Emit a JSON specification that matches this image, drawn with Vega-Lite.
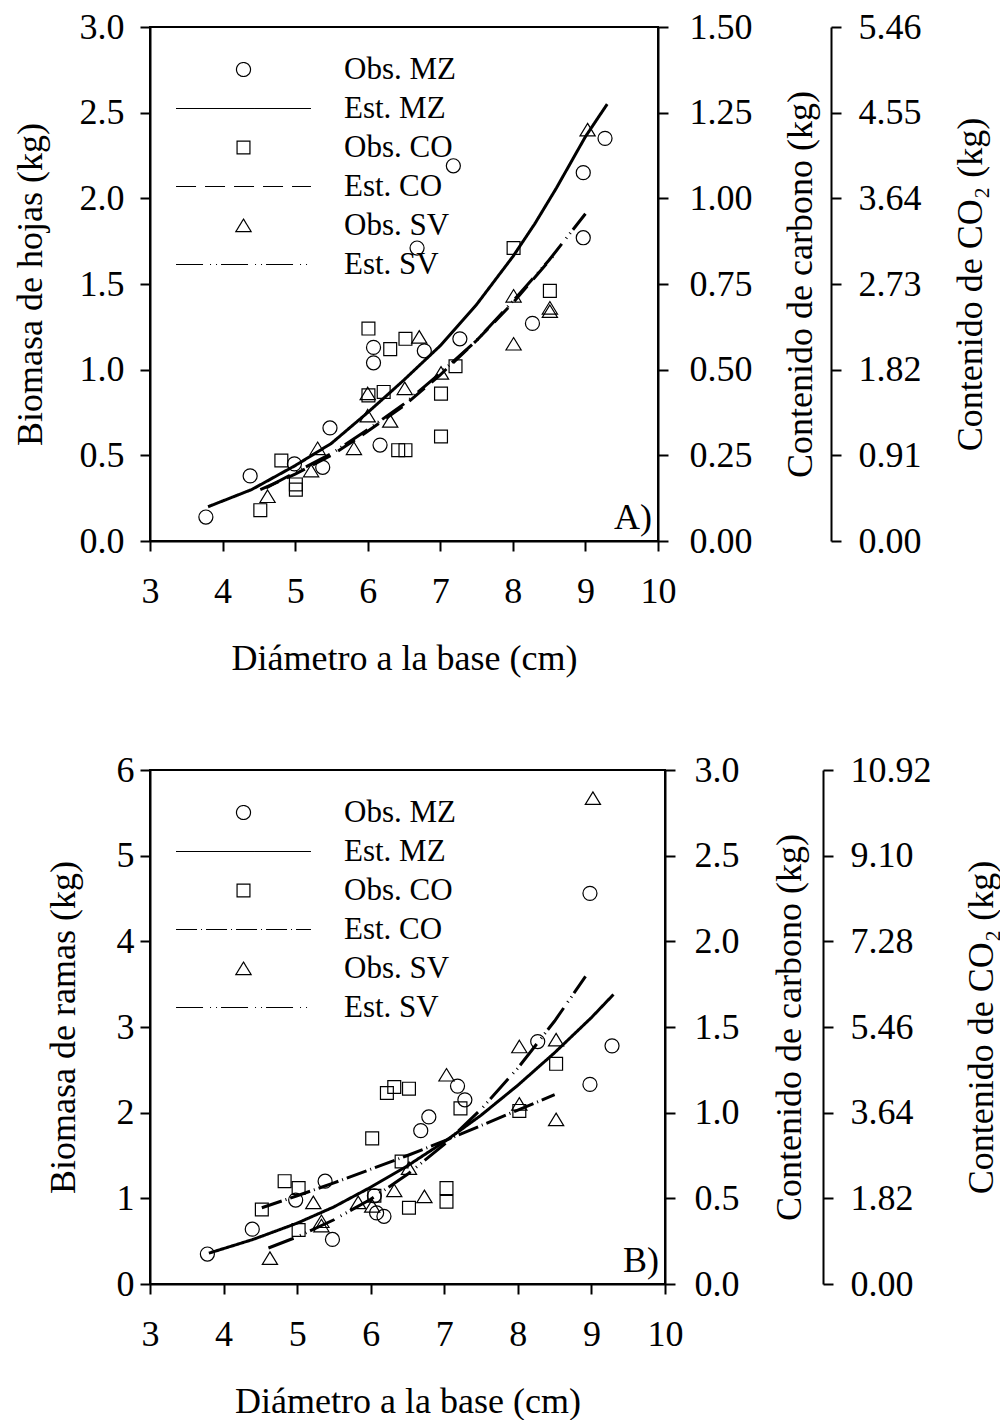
{
  "$schema": "https://vega.github.io/schema/vega-lite/v6.json",
  "padding": {"top": 8, "left": 11, "right": 0, "bottom": 0},
  "background": "white",
  "datasets": {
    "a_obs": [
      {"d": 3.77, "b": 0.14, "s": "Obs. MZ"}, {"d": 4.38, "b": 0.38, "s": "Obs. MZ"}, {"d": 4.99, "b": 0.45, "s": "Obs. MZ"}, {"d": 5.38, "b": 0.43, "s": "Obs. MZ"},
      {"d": 5.48, "b": 0.66, "s": "Obs. MZ"}, {"d": 6.08, "b": 1.13, "s": "Obs. MZ"}, {"d": 6.08, "b": 1.04, "s": "Obs. MZ"}, {"d": 6.17, "b": 0.56, "s": "Obs. MZ"},
      {"d": 6.78, "b": 1.11, "s": "Obs. MZ"}, {"d": 6.68, "b": 1.71, "s": "Obs. MZ"}, {"d": 7.18, "b": 2.19, "s": "Obs. MZ"}, {"d": 7.27, "b": 1.18, "s": "Obs. MZ"},
      {"d": 8.27, "b": 1.27, "s": "Obs. MZ"}, {"d": 8.97, "b": 2.15, "s": "Obs. MZ"}, {"d": 8.97, "b": 1.77, "s": "Obs. MZ"}, {"d": 9.27, "b": 2.35, "s": "Obs. MZ"},
      {"d": 4.52, "b": 0.18, "s": "Obs. CO"}, {"d": 4.81, "b": 0.47, "s": "Obs. CO"}, {"d": 5.01, "b": 0.33, "s": "Obs. CO"}, {"d": 5.01, "b": 0.30, "s": "Obs. CO"},
      {"d": 6.01, "b": 1.24, "s": "Obs. CO"}, {"d": 6.01, "b": 0.85, "s": "Obs. CO"}, {"d": 6.22, "b": 0.87, "s": "Obs. CO"}, {"d": 6.31, "b": 1.12, "s": "Obs. CO"},
      {"d": 6.52, "b": 1.18, "s": "Obs. CO"}, {"d": 6.42, "b": 0.53, "s": "Obs. CO"}, {"d": 6.52, "b": 0.53, "s": "Obs. CO"}, {"d": 7.01, "b": 0.86, "s": "Obs. CO"},
      {"d": 7.01, "b": 0.61, "s": "Obs. CO"}, {"d": 7.21, "b": 1.02, "s": "Obs. CO"}, {"d": 8.01, "b": 1.71, "s": "Obs. CO"}, {"d": 8.51, "b": 1.46, "s": "Obs. CO"},
      {"d": 4.62, "b": 0.26, "s": "Obs. SV"}, {"d": 5.22, "b": 0.41, "s": "Obs. SV"}, {"d": 5.31, "b": 0.54, "s": "Obs. SV"}, {"d": 5.81, "b": 0.54, "s": "Obs. SV"},
      {"d": 6.0, "b": 0.86, "s": "Obs. SV"}, {"d": 6.0, "b": 0.73, "s": "Obs. SV"}, {"d": 6.31, "b": 0.70, "s": "Obs. SV"}, {"d": 6.51, "b": 0.89, "s": "Obs. SV"},
      {"d": 6.71, "b": 1.19, "s": "Obs. SV"}, {"d": 7.01, "b": 0.98, "s": "Obs. SV"}, {"d": 8.01, "b": 1.43, "s": "Obs. SV"}, {"d": 8.01, "b": 1.15, "s": "Obs. SV"},
      {"d": 8.51, "b": 1.36, "s": "Obs. SV"}, {"d": 8.51, "b": 1.34, "s": "Obs. SV"}, {"d": 9.03, "b": 2.40, "s": "Obs. SV"}
    ],
    "a_est": [
      {"d": 3.8, "b": 0.20, "s": "Est. MZ"}, {"d": 4.4, "b": 0.30, "s": "Est. MZ"}, {"d": 5.0, "b": 0.44, "s": "Est. MZ"}, {"d": 5.5, "b": 0.57, "s": "Est. MZ"},
      {"d": 6.0, "b": 0.75, "s": "Est. MZ"}, {"d": 6.5, "b": 0.94, "s": "Est. MZ"}, {"d": 7.0, "b": 1.14, "s": "Est. MZ"}, {"d": 7.5, "b": 1.38, "s": "Est. MZ"},
      {"d": 8.0, "b": 1.66, "s": "Est. MZ"}, {"d": 8.3, "b": 1.85, "s": "Est. MZ"}, {"d": 8.6, "b": 2.06, "s": "Est. MZ"}, {"d": 9.0, "b": 2.36, "s": "Est. MZ"},
      {"d": 9.3, "b": 2.55, "s": "Est. MZ"},
      {"d": 4.52, "b": 0.30, "s": "Est. CO"}, {"d": 5.0, "b": 0.39, "s": "Est. CO"}, {"d": 5.5, "b": 0.50, "s": "Est. CO"}, {"d": 6.0, "b": 0.64, "s": "Est. CO"},
      {"d": 6.5, "b": 0.79, "s": "Est. CO"}, {"d": 7.0, "b": 0.97, "s": "Est. CO"}, {"d": 7.5, "b": 1.17, "s": "Est. CO"}, {"d": 8.0, "b": 1.39, "s": "Est. CO"},
      {"d": 8.55, "b": 1.66, "s": "Est. CO"},
      {"d": 4.6, "b": 0.31, "s": "Est. SV"}, {"d": 5.0, "b": 0.40, "s": "Est. SV"}, {"d": 5.5, "b": 0.51, "s": "Est. SV"}, {"d": 6.0, "b": 0.65, "s": "Est. SV"},
      {"d": 6.5, "b": 0.80, "s": "Est. SV"}, {"d": 7.0, "b": 0.98, "s": "Est. SV"}, {"d": 7.5, "b": 1.17, "s": "Est. SV"}, {"d": 8.0, "b": 1.40, "s": "Est. SV"},
      {"d": 8.5, "b": 1.64, "s": "Est. SV"}, {"d": 9.0, "b": 1.91, "s": "Est. SV"}
    ],
    "b_obs": [
      {"d": 3.78, "b": 0.35, "s": "Obs. MZ"}, {"d": 4.39, "b": 0.64, "s": "Obs. MZ"}, {"d": 4.98, "b": 0.98, "s": "Obs. MZ"}, {"d": 5.38, "b": 1.20, "s": "Obs. MZ"},
      {"d": 5.48, "b": 0.52, "s": "Obs. MZ"}, {"d": 6.05, "b": 1.03, "s": "Obs. MZ"}, {"d": 6.08, "b": 0.83, "s": "Obs. MZ"}, {"d": 6.18, "b": 0.79, "s": "Obs. MZ"},
      {"d": 6.68, "b": 1.79, "s": "Obs. MZ"}, {"d": 6.79, "b": 1.95, "s": "Obs. MZ"}, {"d": 7.18, "b": 2.31, "s": "Obs. MZ"}, {"d": 7.28, "b": 2.15, "s": "Obs. MZ"},
      {"d": 8.27, "b": 2.83, "s": "Obs. MZ"}, {"d": 8.98, "b": 4.56, "s": "Obs. MZ"}, {"d": 8.98, "b": 2.33, "s": "Obs. MZ"}, {"d": 9.28, "b": 2.78, "s": "Obs. MZ"},
      {"d": 4.52, "b": 0.87, "s": "Obs. CO"}, {"d": 4.83, "b": 1.20, "s": "Obs. CO"}, {"d": 5.02, "b": 1.12, "s": "Obs. CO"}, {"d": 5.02, "b": 0.63, "s": "Obs. CO"},
      {"d": 6.02, "b": 1.70, "s": "Obs. CO"}, {"d": 6.05, "b": 1.03, "s": "Obs. CO"}, {"d": 6.22, "b": 2.23, "s": "Obs. CO"}, {"d": 6.32, "b": 2.30, "s": "Obs. CO"},
      {"d": 6.52, "b": 2.28, "s": "Obs. CO"}, {"d": 6.42, "b": 1.43, "s": "Obs. CO"}, {"d": 6.52, "b": 0.89, "s": "Obs. CO"}, {"d": 7.03, "b": 1.12, "s": "Obs. CO"},
      {"d": 7.03, "b": 0.96, "s": "Obs. CO"}, {"d": 7.22, "b": 2.05, "s": "Obs. CO"}, {"d": 8.02, "b": 2.02, "s": "Obs. CO"}, {"d": 8.52, "b": 2.57, "s": "Obs. CO"},
      {"d": 4.63, "b": 0.30, "s": "Obs. SV"}, {"d": 5.22, "b": 0.95, "s": "Obs. SV"}, {"d": 5.33, "b": 0.73, "s": "Obs. SV"}, {"d": 5.33, "b": 0.68, "s": "Obs. SV"},
      {"d": 5.83, "b": 0.95, "s": "Obs. SV"}, {"d": 6.02, "b": 0.91, "s": "Obs. SV"}, {"d": 6.32, "b": 1.09, "s": "Obs. SV"}, {"d": 6.52, "b": 1.35, "s": "Obs. SV"},
      {"d": 6.73, "b": 1.02, "s": "Obs. SV"}, {"d": 7.03, "b": 2.44, "s": "Obs. SV"}, {"d": 8.02, "b": 2.77, "s": "Obs. SV"}, {"d": 8.02, "b": 2.10, "s": "Obs. SV"},
      {"d": 8.52, "b": 2.85, "s": "Obs. SV"}, {"d": 8.52, "b": 1.92, "s": "Obs. SV"}, {"d": 9.02, "b": 5.67, "s": "Obs. SV"}
    ],
    "b_est": [
      {"d": 3.8, "b": 0.36, "s": "Est. MZ"}, {"d": 4.4, "b": 0.52, "s": "Est. MZ"}, {"d": 5.0, "b": 0.71, "s": "Est. MZ"}, {"d": 5.5, "b": 0.90, "s": "Est. MZ"},
      {"d": 6.0, "b": 1.13, "s": "Est. MZ"}, {"d": 6.5, "b": 1.38, "s": "Est. MZ"}, {"d": 7.0, "b": 1.66, "s": "Est. MZ"}, {"d": 7.5, "b": 1.97, "s": "Est. MZ"},
      {"d": 8.0, "b": 2.32, "s": "Est. MZ"}, {"d": 8.5, "b": 2.70, "s": "Est. MZ"}, {"d": 9.0, "b": 3.11, "s": "Est. MZ"}, {"d": 9.3, "b": 3.38, "s": "Est. MZ"},
      {"d": 4.52, "b": 0.89, "s": "Est. CO"}, {"d": 5.0, "b": 1.03, "s": "Est. CO"}, {"d": 5.5, "b": 1.18, "s": "Est. CO"}, {"d": 6.0, "b": 1.34, "s": "Est. CO"},
      {"d": 6.5, "b": 1.50, "s": "Est. CO"}, {"d": 7.0, "b": 1.67, "s": "Est. CO"}, {"d": 7.5, "b": 1.85, "s": "Est. CO"}, {"d": 8.0, "b": 2.03, "s": "Est. CO"},
      {"d": 8.5, "b": 2.21, "s": "Est. CO"},
      {"d": 4.61, "b": 0.42, "s": "Est. SV"}, {"d": 5.0, "b": 0.55, "s": "Est. SV"}, {"d": 5.5, "b": 0.75, "s": "Est. SV"}, {"d": 6.0, "b": 0.99, "s": "Est. SV"},
      {"d": 6.5, "b": 1.28, "s": "Est. SV"}, {"d": 7.0, "b": 1.63, "s": "Est. SV"}, {"d": 7.5, "b": 2.04, "s": "Est. SV"}, {"d": 8.0, "b": 2.52, "s": "Est. SV"},
      {"d": 8.5, "b": 3.07, "s": "Est. SV"}, {"d": 8.92, "b": 3.59, "s": "Est. SV"}
    ]
  },
  "resolve": {
    "scale": {"shape": "independent", "strokeDash": "independent"},
    "legend": {"shape": "independent", "strokeDash": "independent"}
  },
  "vconcat": [
    {
      "width": 508,
      "height": 514,
      "resolve": {"axis": {"y": "independent"}},
      "layer": [
        {
          "data": {"name": "a_est"},
          "mark": {"type": "line", "color": "black", "strokeWidth": 3},
          "encoding": {
            "x": {"field": "d", "type": "quantitative", "scale": {"domain": [3, 10], "nice": false, "zero": false},
                  "axis": {"values": [3, 4, 5, 6, 7, 8, 9, 10], "format": "d", "title": "Diámetro a la base (cm)", "labelPadding": 23, "titlePadding": 32}},
            "y": {"field": "b", "type": "quantitative", "scale": {"domain": [0, 3], "nice": false},
                  "axis": {"orient": "left", "values": [0, 0.5, 1, 1.5, 2, 2.5, 3], "format": ".1f", "title": "Biomasa de hojas (kg)", "labelPadding": 16, "titlePadding": 30}},
            "strokeDash": {"field": "s", "type": "nominal",
              "scale": {"domain": ["Obs. MZ", "Est. MZ", "Obs. CO", "Est. CO", "Obs. SV", "Est. SV"],
                        "range": [[1, 0], [1, 0], [1, 0], [20, 9], [1, 0], [27, 7, 1, 5, 1, 4]]},
              "legend": {"title": null, "orient": "none", "legendX": 25, "legendY": 22}}
          }
        },
        {
          "data": {"name": "a_obs"},
          "mark": {"type": "point", "filled": false, "size": 1521, "strokeWidth": 1.2, "color": "black", "opacity": 1},
          "encoding": {
            "x": {"field": "d", "type": "quantitative"},
            "y": {"field": "b", "type": "quantitative",
                  "axis": {"orient": "right", "values": [0, 0.5, 1, 1.5, 2, 2.5, 3], "labelExpr": "format(datum.value / 2, '.2f')", "title": "Contenido de carbono (kg)", "titleAngle": 270, "titleBaseline": "top", "labelPadding": 21, "titlePadding": 31}},
            "shape": {"field": "s", "type": "nominal",
              "scale": {"domain": ["Obs. MZ", "Est. MZ", "Obs. CO", "Est. CO", "Obs. SV", "Est. SV"],
                        "range": ["M0.36,0A0.36,0.36,0,1,1,-0.36,0A0.36,0.36,0,1,1,0.36,0Z", "M-3.46,0H3.46", "M-0.33,-0.33H0.33V0.33H-0.33Z", "M-3.46,0H3.46", "M0,-0.33L0.39,0.31L-0.39,0.31Z", "M-3.46,0H3.46"]},
              "legend": {"title": null, "orient": "none", "legendX": 25, "legendY": 22}}
          }
        },
        {
          "data": {"values": [{"t": "A)", "d": 10, "b": 0}]},
          "mark": {"type": "text", "align": "right", "baseline": "bottom", "dx": -6, "dy": -4, "fontSize": 36, "font": "Liberation Serif", "color": "black"},
          "encoding": {
            "text": {"field": "t"},
            "x": {"field": "d", "type": "quantitative"},
            "y": {"field": "b", "type": "quantitative",
                  "axis": {"orient": "right", "offset": 173, "values": [0, 0.5, 1, 1.5, 2, 2.5, 3], "labelExpr": "format(datum.value * 1.82, '.2f')", "title": "Contenido de CO₂ (kg)", "titleAngle": 270, "titleBaseline": "top", "labelPadding": 17, "titlePadding": 32}}
          }
        }
      ]
    },
    {
      "width": 515,
      "height": 514,
      "resolve": {"axis": {"y": "independent"}},
      "layer": [
        {
          "data": {"name": "b_est"},
          "mark": {"type": "line", "color": "black", "strokeWidth": 3},
          "encoding": {
            "x": {"field": "d", "type": "quantitative", "scale": {"domain": [3, 10], "nice": false, "zero": false},
                  "axis": {"values": [3, 4, 5, 6, 7, 8, 9, 10], "format": "d", "title": "Diámetro a la base (cm)", "labelPadding": 23, "titlePadding": 32}},
            "y": {"field": "b", "type": "quantitative", "scale": {"domain": [0, 6], "nice": false},
                  "axis": {"orient": "left", "values": [0, 1, 2, 3, 4, 5, 6], "format": "d", "title": "Biomasa de ramas (kg)", "labelPadding": 6, "titlePadding": 34}},
            "strokeDash": {"field": "s", "type": "nominal",
              "scale": {"domain": ["Obs. MZ", "Est. MZ", "Obs. CO", "Est. CO", "Obs. SV", "Est. SV"],
                        "range": [[1, 0], [1, 0], [1, 0], [21, 4, 1, 4], [1, 0], [27, 7, 1, 5, 1, 4]]},
              "legend": {"title": null, "orient": "none", "legendX": 25, "legendY": 22}}
          }
        },
        {
          "data": {"name": "b_obs"},
          "mark": {"type": "point", "filled": false, "size": 1521, "strokeWidth": 1.2, "color": "black", "opacity": 1},
          "encoding": {
            "x": {"field": "d", "type": "quantitative"},
            "y": {"field": "b", "type": "quantitative",
                  "axis": {"orient": "right", "values": [0, 1, 2, 3, 4, 5, 6], "labelExpr": "format(datum.value / 2, '.1f')", "title": "Contenido de carbono (kg)", "titleAngle": 270, "titleBaseline": "top", "labelPadding": 19, "titlePadding": 33}},
            "shape": {"field": "s", "type": "nominal",
              "scale": {"domain": ["Obs. MZ", "Est. MZ", "Obs. CO", "Est. CO", "Obs. SV", "Est. SV"],
                        "range": ["M0.36,0A0.36,0.36,0,1,1,-0.36,0A0.36,0.36,0,1,1,0.36,0Z", "M-3.46,0H3.46", "M-0.33,-0.33H0.33V0.33H-0.33Z", "M-3.46,0H3.46", "M0,-0.33L0.39,0.31L-0.39,0.31Z", "M-3.46,0H3.46"]},
              "legend": {"title": null, "orient": "none", "legendX": 25, "legendY": 22}}
          }
        },
        {
          "data": {"values": [{"t": "B)", "d": 10, "b": 0}]},
          "mark": {"type": "text", "align": "right", "baseline": "bottom", "dx": -6, "dy": -4, "fontSize": 36, "font": "Liberation Serif", "color": "black"},
          "encoding": {
            "text": {"field": "t"},
            "x": {"field": "d", "type": "quantitative"},
            "y": {"field": "b", "type": "quantitative",
                  "axis": {"orient": "right", "offset": 158, "values": [0, 1, 2, 3, 4, 5, 6], "labelExpr": "format(datum.value * 1.82, '.2f')", "title": "Contenido de CO₂ (kg)", "titleAngle": 270, "titleBaseline": "top", "labelPadding": 17, "titlePadding": 33}}
          }
        }
      ]
    }
  ],
  "spacing": 74,
  "config": {
    "font": "Liberation Serif",
    "view": {"stroke": "black", "strokeWidth": 2},
    "axis": {
      "grid": false, "domainColor": "black", "domainWidth": 2, "tickColor": "black", "tickWidth": 2, "tickSize": 10,
      "labelFont": "Liberation Serif", "labelFontSize": 36, "labelColor": "black", "labelFlush": false, "labelOverlap": false,
      "titleFont": "Liberation Serif", "titleFontSize": 36, "titleFontWeight": "normal", "titleColor": "black"
    },
    "legend": {
      "symbolSize": 1521, "symbolOffset": 48, "labelOffset": 80, "rowPadding": 3, "padding": 0,
      "labelFont": "Liberation Serif", "labelFontSize": 31, "labelColor": "black",
      "symbolStrokeColor": "black", "symbolFillColor": "transparent", "symbolStrokeWidth": 1.2, "symbolLimit": 0
    }
  }
}
